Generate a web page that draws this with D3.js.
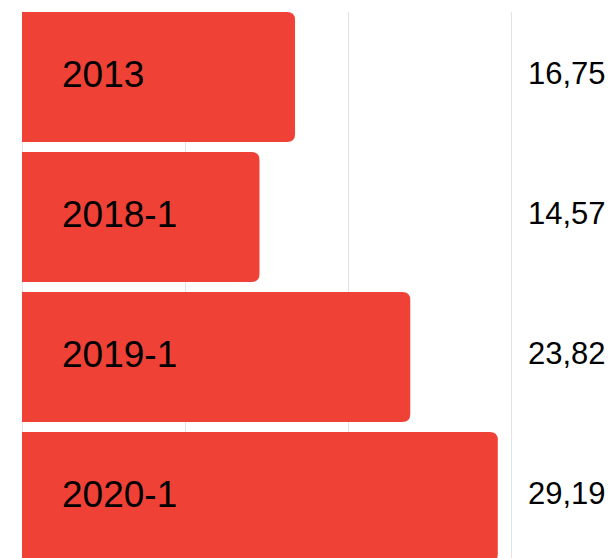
<!DOCTYPE html>
<html>
<head>
<meta charset="utf-8">
<script src="https://cdn.jsdelivr.net/npm/d3@7"></script>
<style>
  body { margin: 0; background: #fff; }
  svg { display: block; font-family: "Liberation Sans", Arial, sans-serif; }
</style>
</head>
<body>
<svg id="chart" width="612" height="558"></svg>
<script>
const categories = ["2013", "2018-1", "2019-1", "2020-1"];
const values = [16.75, 14.57, 23.82, 29.19];
const valueLabels = ["16,75", "14,57", "23,82", "29,19"];
const gridTicks = [0, 10, 20, 30];

const svg = d3.select("#chart");

// x: 0 -> 22px, 30 -> 511px
let xscale = d3.scaleLinear().domain([0, 30]).range([22, 511]);
let yscale = d3.scaleBand().domain(categories).range([12, 562]).paddingInner(10 / 140).paddingOuter(0);

// grid
svg.append("g").attr("class", "gGrid")
    .selectAll("line")
    .data(gridTicks)
    .join("line")
    .attr("x1", d => Math.round(xscale(d)) + 0.5)
    .attr("x2", d => Math.round(xscale(d)) + 0.5)
    .attr("y1", 12)
    .attr("y2", 558)
    .attr("stroke", "#e3e3e3")
    .attr("stroke-width", 1);

// bars, right side rounded
const r = 8;
function barPath(x0, x1, y0, h) {
    return `M${x0},${y0}H${x1 - r}Q${x1},${y0} ${x1},${y0 + r}V${y0 + h - r}Q${x1},${y0 + h} ${x1 - r},${y0 + h}H${x0}Z`;
}

const data = categories.map((c, i) => ({ cat: c, value: values[i], label: valueLabels[i] }));

svg.append("g").attr("class", "gBars")
    .selectAll("path")
    .data(data)
    .join("path")
    .attr("d", d => barPath(xscale(0), xscale(d.value), yscale(d.cat), yscale.bandwidth()))
    .attr("fill", "#ef4136");

// category labels inside bars
svg.append("g")
    .selectAll("text")
    .data(data)
    .join("text")
    .attr("x", xscale(0) + 40)
    .attr("y", d => yscale(d.cat) + yscale.bandwidth() / 2 + 10)
    .attr("font-size", 37)
    .attr("fill", "#000")
    .text(d => d.cat);

// value labels on the right
svg.append("g")
    .selectAll("text")
    .data(data)
    .join("text")
    .attr("x", xscale(30) + 17)
    .attr("y", d => yscale(d.cat) + yscale.bandwidth() / 2 + 7)
    .attr("font-size", 31)
    .attr("fill", "#000")
    .text(d => d.label);
</script>
</body>
</html>
